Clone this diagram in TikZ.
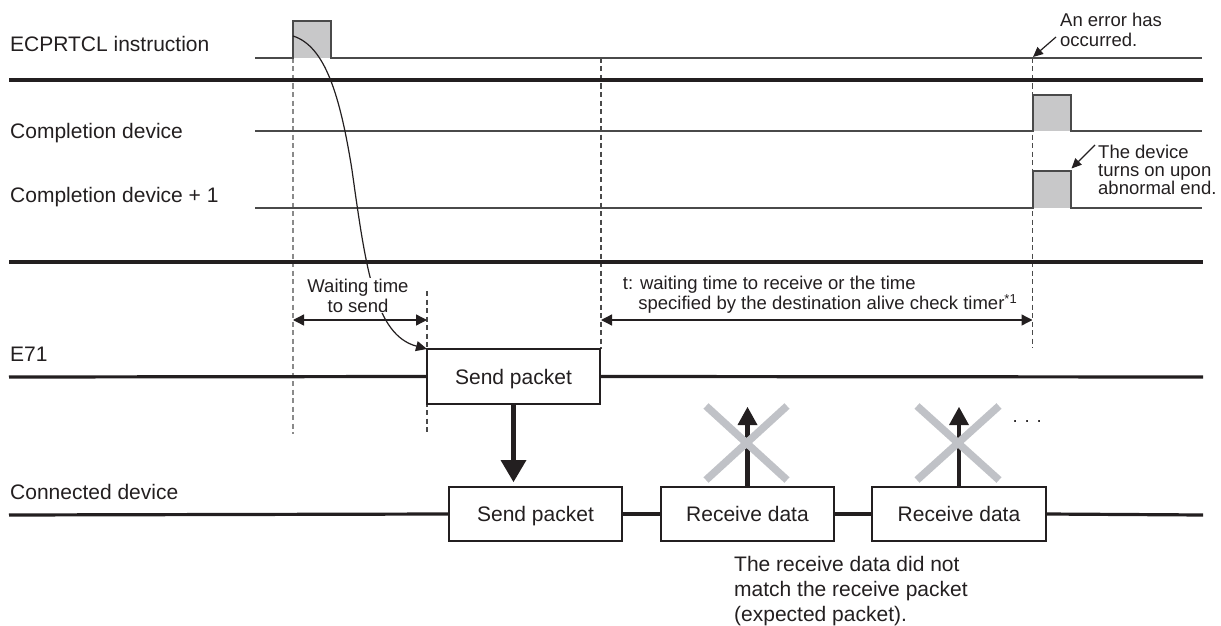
\documentclass[tikz,border=0pt]{standalone}
\usepackage{fontspec}
\setmainfont{Liberation Sans}
\usetikzlibrary{arrows.meta}
\definecolor{ink}{HTML}{231F20}
\definecolor{sig}{HTML}{4A4A4A}
\definecolor{dgray}{HTML}{4A4A4A}
\definecolor{lgray}{HTML}{8A8A8A}
\definecolor{pulsegray}{HTML}{C8C8C9}
\definecolor{crossgray}{HTML}{C0C2C7}
\newcommand\mainfs{\fontsize{21}{25}\selectfont}
\newcommand\notefs{\fontsize{18.5}{20}\selectfont}
\newcommand\devfs{\fontsize{18.5}{18}\selectfont}
\begin{document}
\begin{tikzpicture}[x=1pt,y=-1pt,
  sigline/.style={draw=sig,line width=1.5pt,line join=miter},
  sepline/.style={draw=ink,line width=3.2pt},
  dashv/.style={draw=dgray,line width=1.1pt,dash pattern=on 5pt off 3.5pt},
  dashlight/.style={dashv,draw=lgray},
  lbl/.style={anchor=base west,inner sep=0pt,font=\mainfs,text=ink},
  note/.style={inner sep=0pt,font=\notefs,text=ink,align=left},
  box/.style={draw=ink,line width=1.3pt,fill=white,minimum width=173pt,minimum height=55pt,
              inner sep=0pt,outer sep=0pt,text height=15.2pt,text depth=0pt,font=\mainfs,text=ink},
  dimarrow/.style={draw=ink,line width=1.3pt,{Triangle[length=11pt,width=11pt]}-{Triangle[length=11pt,width=11pt]}},
  curvearrow/.style={draw=ink,line width=1.2pt,-{Triangle[length=11pt,width=10pt]}},
  notearrow/.style={draw=ink,line width=1.2pt,-{Triangle[length=10pt,width=9pt]}},
  bigarrow/.style={draw=ink,line width=4.3pt,-{Triangle[length=22pt,width=26pt,line width=0pt]}},
  uparrow/.style={draw=ink,line width=4.3pt,-{Triangle[length=18pt,width=20pt,line width=0pt]}},
  crossline/.style={draw=crossgray,line width=7.5pt}]
\useasboundingbox (0,0) rectangle (1221,626);

% row labels
\node[lbl] (l1) at (10,52) {ECPRTCL instruction};
\node[lbl] (l2) at (10,138.5) {Completion device};
\node[lbl] (l3) at (10,202.5) {Completion device + 1};
\node[lbl] (l4) at (10,361.5) {E71};
\node[lbl] (l5) at (10,499) {Connected device};

% dashed verticals
\coordinate (d1t) at (293,58);   \coordinate (d1b) at (293,434);
\coordinate (d2t) at (427,291);  \coordinate (d2b) at (427,432);
\coordinate (d3t) at (601,58);   \coordinate (d3b) at (601,349);
\coordinate (d4t) at (1032.5,58); \coordinate (d4b) at (1032.5,348);
\draw[dashlight] (d1t) -- (d1b);
\draw[dashv] (d2t) -- (d2b);
\draw[dashv] (d3t) -- (d3b);
\draw[dashv] (d4t) -- (d4b);

% pulses
\fill[pulsegray] (293,21) rectangle (331,58);
\fill[pulsegray] (1033,95) rectangle (1071,131);
\fill[pulsegray] (1033,171) rectangle (1071,208);
\draw[sigline] (255,58) -- (293,58) -- (293,21) -- (331,21) -- (331,58) -- (1202,58);
\draw[sigline] (255,131) -- (1033,131) -- (1033,95) -- (1071,95) -- (1071,131) -- (1202,131);
\draw[sigline] (255,208) -- (1033,208) -- (1033,171) -- (1071,171) -- (1071,208) -- (1202,208);

% separators
\draw[sepline] (9,80) -- (1203,80);
\draw[sepline] (9,262) -- (1203,262);

% boxes
\node[box] (sp1) at (513.5,376.5) {Send packet};
\node[box,minimum height=54pt] (sp2) at (535.5,514) {Send packet};
\node[box,minimum height=54pt] (rd1) at (747.5,514) {Receive data};
\node[box,minimum height=54pt,minimum width=174pt] (rd2) at (959,514) {Receive data};

% E71 line
\draw[sepline] (9,377) -- (sp1.west);
\draw[sepline] (sp1.east) -- (1203,377);
% connected device line
\draw[sepline] (9,515) -- (sp2.west);
\draw[sepline] (sp2.east) -- (rd1.west);
\draw[sepline] (rd1.east) -- (rd2.west);
\draw[sepline] (rd2.east) -- (1203,515);

% curved arrow from instruction pulse to send packet
\coordinate (p1) at (293,36);
\draw[curvearrow] (p1) .. controls (325,46) and (340,95) .. (352,170)
   .. controls (366,270) and (375,335) .. (sp1.north west);

% dimension arrows
\coordinate (w1) at (293,320); \coordinate (w2) at (427,320);
\coordinate (t1) at (601,320); \coordinate (t2) at (1032.5,320);
\draw[dimarrow] (w1) -- (w2);
\draw[dimarrow] (t1) -- (t2);
\node[note,align=center,fill=white,inner sep=1pt,anchor=north] (wt) at (358,277.5) {Waiting time\\to send};
\node[note,anchor=north west] (tt) at (622.7,276.1)
  {t: waiting time to receive or the time\\\hspace*{15.5pt}specified by the destination alive check timer\textsuperscript{*1}};

% send arrow
\coordinate (dtip) at (513.5,482);
\draw[bigarrow] (sp1.south) -- (dtip);

% failed receive arrows
\coordinate (u1) at (747.5,407);
\coordinate (u2) at (959,407);
\draw[uparrow] (rd1.north) -- (u1);
\draw[uparrow] (rd2.north) -- (u2);
\draw[crossline] (706,406) -- (787,480);
\draw[crossline] (787,406) -- (706,480);
\draw[crossline] (917,406) -- (999,480);
\draw[crossline] (999,406) -- (917,480);
\node[note,anchor=base west] (dots) at (1012.4,422) {. . .};

% notes
\node[note,anchor=north west] (err) at (1060,13.2) {An error has\\occurred.};
\coordinate (e1) at (1056,37); \coordinate (e2) at (1033,57);
\draw[notearrow] (e1) -- (e2);
\node[note,font=\devfs,anchor=north west] (dev) at (1098,145) {The device\\turns on upon\\abnormal end.};
\coordinate (v1) at (1095,145); \coordinate (v2) at (1071.5,168.5);
\draw[notearrow] (v1) -- (v2);

\node[note,font=\mainfs,anchor=north west] (rmk) at (734,555.7)
  {The receive data did not\\match the receive packet\\(expected packet).};
\end{tikzpicture}
\end{document}
